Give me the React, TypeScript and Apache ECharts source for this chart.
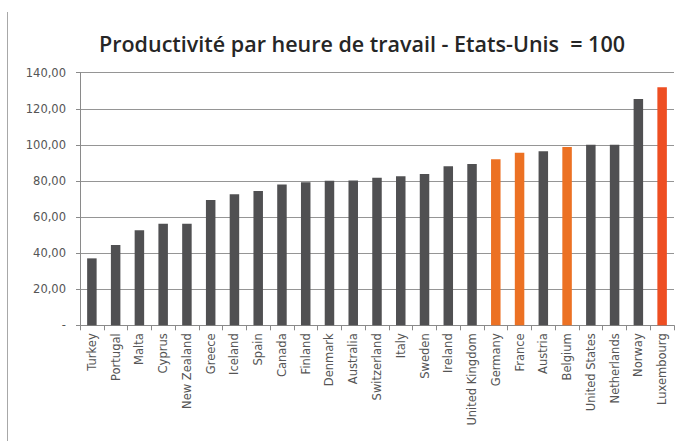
import React, { useEffect, useRef } from "react";
import * as echarts from "echarts";

const countries = [
  "Turkey", "Portugal", "Malta", "Cyprus", "New Zealand", "Greece", "Iceland", "Spain",
  "Canada", "Finland", "Denmark", "Australia", "Switzerland", "Italy", "Sweden", "Ireland",
  "United Kingdom", "Germany", "France", "Austria", "Belgium", "United States",
  "Netherlands", "Norway", "Luxembourg",
];
const productivity = [
  37.1, 44.5, 52.7, 56.3, 56.3, 69.5, 72.6, 74.4,
  78.1, 79.3, 80.1, 80.2, 81.8, 82.6, 83.9, 88.1,
  89.4, 92.0, 95.7, 96.4, 98.8, 100.0,
  100.1, 125.4, 131.9,
];
const orangeCountries = ["Germany", "France", "Belgium"];
const redCountries = ["Luxembourg"];
const yTicks = [0, 20, 40, 60, 80, 100, 120, 140];

const DARK = "#505052";
const ORANGE = "#EC7123";
const RED = "#EE4E22";

export default function App() {
  const ref = useRef<HTMLDivElement>(null);
  useEffect(() => {
    if (!ref.current) return;
    const chart = echarts.init(ref.current, null, { renderer: "svg" });
    chart.setOption({
      animation: false,
      backgroundColor: "#ffffff",
      title: {
        text: "Productivité par heure de travail - Etats-Unis  = 100",
        left: 357,
        textAlign: "center",
        top: 27,
        textStyle: {
          fontFamily: "Open Sans",
          fontWeight: 600,
          fontSize: 21.5,
          color: "#262626",
        },
      },
      graphic: [
        {
          type: "line",
          shape: { x1: 7.5, y1: 12, x2: 7.5, y2: 441 },
          style: { stroke: "#a8a8a8", lineWidth: 1 },
        },
      ],
      grid: { left: 80, right: 6, top: 72.7, bottom: 115.7, containLabel: false },
      xAxis: {
        type: "category",
        data: countries,
        axisLine: { show: true, lineStyle: { color: "#8a8a8a", width: 1 } },
        axisTick: { show: true, alignWithLabel: false, length: 5, lineStyle: { color: "#8a8a8a" } },
        axisLabel: {
          rotate: 90,
          interval: 0,
          margin: 8,
          fontFamily: "DejaVu Sans",
          fontSize: 11.5,
          color: "#555555",
        },
      },
      yAxis: {
        type: "value",
        min: yTicks[0],
        max: yTicks[yTicks.length - 1],
        interval: 20,
        axisLine: { show: true, lineStyle: { color: "#8a8a8a", width: 1 } },
        axisTick: { show: true, length: 4, lineStyle: { color: "#8a8a8a" } },
        splitLine: { show: true, lineStyle: { color: "#959595", width: 1 } },
        axisLabel: {
          margin: 14,
          fontFamily: "DejaVu Sans",
          fontSize: 11.5,
          color: "#555555",
          formatter: (v: number) => (v === 0 ? "-" : v.toFixed(2).replace(".", ",")),
        },
      },
      series: [
        {
          type: "bar",
          data: productivity,
          barWidth: 9.5,
          itemStyle: {
            color: (p: any) =>
              redCountries.includes(countries[p.dataIndex])
                ? RED
                : orangeCountries.includes(countries[p.dataIndex])
                ? ORANGE
                : DARK,
          },
        },
      ],
    });
    return () => chart.dispose();
  }, []);
  return (
    <div
      ref={ref}
      style={{ position: "fixed", left: 0, top: 0, width: 680, height: 441 }}
    />
  );
}
